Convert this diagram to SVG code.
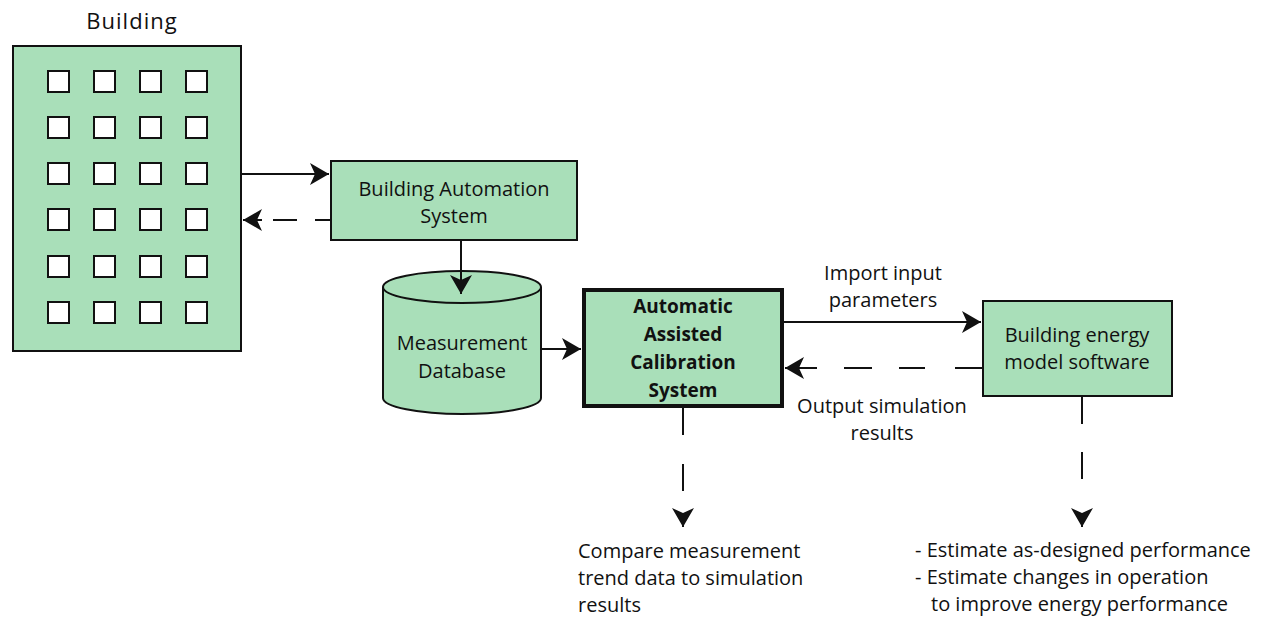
<svg xmlns="http://www.w3.org/2000/svg" width="1270" height="618" viewBox="0 0 1270 618">
<defs>
<style>
.box{fill:#a9dfb9;stroke:#111;stroke-width:2}
.thick{stroke-width:4}
.win{fill:#fff;stroke:#111;stroke-width:2}
.t{font-family:"Open Sans","Liberation Sans",sans-serif;font-size:20px;fill:#111}
.c{text-anchor:middle}
.b{font-weight:bold;font-size:19px}
.ln{fill:none;stroke:#111;stroke-width:2}
</style>
<marker id="ah" markerUnits="userSpaceOnUse" markerWidth="22" markerHeight="22" refX="19" refY="11" orient="auto">
<path d="M0,0 L19,11 L0,22 L5,11 Z" fill="#111"/>
</marker>
</defs>
<rect width="1270" height="618" fill="#fff"/>

<g id="building">
<text class="t c" x="132" y="29" style="font-size:22px;letter-spacing:1px">Building</text>
<rect class="box" x="13" y="46" width="228" height="305"/>
<g id="windows">
<rect class="win" x="48" y="71" width="21" height="21"/><rect class="win" x="94" y="71" width="21" height="21"/><rect class="win" x="140" y="71" width="21" height="21"/><rect class="win" x="186" y="71" width="21" height="21"/>
<rect class="win" x="48" y="117" width="21" height="21"/><rect class="win" x="94" y="117" width="21" height="21"/><rect class="win" x="140" y="117" width="21" height="21"/><rect class="win" x="186" y="117" width="21" height="21"/>
<rect class="win" x="48" y="163" width="21" height="21"/><rect class="win" x="94" y="163" width="21" height="21"/><rect class="win" x="140" y="163" width="21" height="21"/><rect class="win" x="186" y="163" width="21" height="21"/>
<rect class="win" x="48" y="209" width="21" height="21"/><rect class="win" x="94" y="209" width="21" height="21"/><rect class="win" x="140" y="209" width="21" height="21"/><rect class="win" x="186" y="209" width="21" height="21"/>
<rect class="win" x="48" y="256" width="21" height="21"/><rect class="win" x="94" y="256" width="21" height="21"/><rect class="win" x="140" y="256" width="21" height="21"/><rect class="win" x="186" y="256" width="21" height="21"/>
<rect class="win" x="48" y="302" width="21" height="21"/><rect class="win" x="94" y="302" width="21" height="21"/><rect class="win" x="140" y="302" width="21" height="21"/><rect class="win" x="186" y="302" width="21" height="21"/>
</g>
</g>

<g id="bas">
<rect class="box" x="331" y="161" width="246" height="79"/>
<text class="t c" x="454" y="196">Building Automation</text>
<text class="t c" x="454" y="223">System</text>
</g>

<g id="database">
<path class="box" d="M383,287 A79,16 0 0 1 541,287 V398 A79,16 0 0 1 383,398 Z"/>
<path class="ln" d="M383,287 A79,16 0 0 0 541,287"/>
<text class="t c" x="462" y="350">Measurement</text>
<text class="t c" x="462" y="378">Database</text>
</g>

<g id="acs">
<rect class="box thick" x="584" y="290" width="198" height="116"/>
<text class="t c b" x="683" y="313">Automatic</text>
<text class="t c b" x="683" y="341">Assisted</text>
<text class="t c b" x="683" y="369">Calibration</text>
<text class="t c b" x="683" y="397">System</text>
</g>

<g id="bem">
<rect class="box" x="983" y="301" width="189" height="95"/>
<text class="t c" x="1077" y="342">Building energy</text>
<text class="t c" x="1077" y="369">model software</text>
</g>

<g id="connectors">
<path class="ln" d="M242,174 H329" marker-end="url(#ah)"/>
<path class="ln" d="M330,220 H315 M297,220 H273 M262,220 H243" marker-end="url(#ah)"/>
<path class="ln" d="M461,241 V294" marker-end="url(#ah)"/>
<path class="ln" d="M542,349 H581" marker-end="url(#ah)"/>
<path class="ln" d="M783,322 H981" marker-end="url(#ah)"/>
<path class="ln" d="M982,368 H955 M925,368 H899 M872,368 H844 M817,368 H785" marker-end="url(#ah)"/>
<path class="ln" d="M683,408 V435 M683,464 V491 M683,515 V527" marker-end="url(#ah)"/>
<path class="ln" d="M1082,397 V424 M1082,452 V479 M1082,515 V527" marker-end="url(#ah)"/>
</g>

<g id="labels">
<text class="t c" x="883" y="280">Import input</text>
<text class="t c" x="883" y="307">parameters</text>
<text class="t c" x="882" y="413">Output simulation</text>
<text class="t c" x="882" y="440">results</text>
<text class="t" x="578" y="558">Compare measurement</text>
<text class="t" x="578" y="585">trend data to simulation</text>
<text class="t" x="578" y="612">results</text>
<text class="t" x="915" y="557">- Estimate as-designed performance</text>
<text class="t" x="915" y="584">- Estimate changes in operation</text>
<text class="t" x="931" y="611">to improve energy performance</text>
</g>
</svg>
